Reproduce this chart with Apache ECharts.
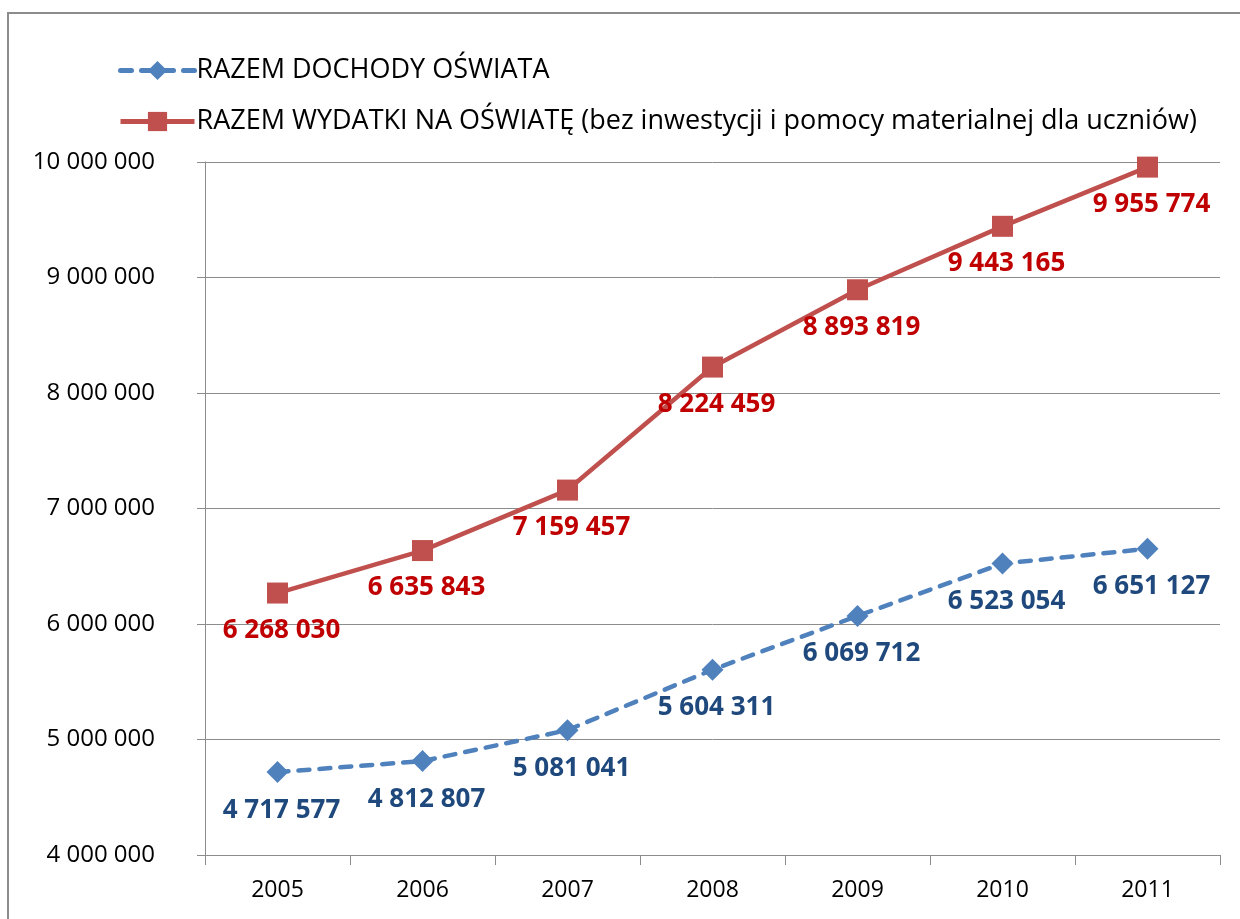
<!DOCTYPE html>
<html>
<head>
<meta charset="utf-8">
<script src="https://cdn.jsdelivr.net/npm/echarts@6/dist/echarts.min.js"></script>
<style>
  html, body { margin: 0; padding: 0; background: #fff; }
  #chart { width: 1240px; height: 919px; }
</style>
</head>
<body>
<div id="chart"></div>
<script>
// lata
const years = ['2005', '2006', '2007', '2008', '2009', '2010', '2011']
// dochody
const dochody = [4717577, 4812807, 5081041, 5604311, 6069712, 6523054, 6651127]
// wydatki
const wydatki = [6268030, 6635843, 7159457, 8224459, 8893819, 9443165, 9955774]
const nameDochody = 'RAZEM DOCHODY OŚWIATA'
const nameWydatki = 'RAZEM WYDATKI NA OŚWIATĘ (bez inwestycji i pomocy materialnej dla uczniów)'

const fmt = v => String(v).replace(/\B(?=(\d{3})+(?!\d))/g, ' ')
const font = '"Open Sans", "DejaVu Sans", sans-serif'

const chart = echarts.init(document.getElementById('chart'))
chart.setOption({
  animation: false,
  textStyle: { fontFamily: font },
  graphic: [{
    type: 'rect',
    shape: { x: 8, y: 13, width: 1300, height: 1000 },
    style: { fill: 'none', stroke: '#8c8c8c', lineWidth: 2 },
    silent: true
  }],
  legend: {
    orient: 'vertical',
    left: 113,
    top: 52,
    itemWidth: 74,
    itemHeight: 24,
    itemGap: 24,
    lineStyle: { width: 5 },
    textStyle: { fontSize: 27, color: '#000', fontFamily: font, padding: [0, 0, 0, -3] },
    data: [nameDochody, nameWydatki]
  },
  grid: { left: 205, right: 20, top: 162, bottom: 64 },
  xAxis: {
    type: 'category',
    data: years,
    boundaryGap: true,
    axisLine: { lineStyle: { color: '#8c8c8c', width: 1 } },
    axisTick: { show: true, length: 10, interval: 0, lineStyle: { color: '#8c8c8c' } },
    axisLabel: { fontSize: 23, color: '#000', margin: 24 }
  },
  yAxis: {
    type: 'value',
    min: 4000000,
    max: 10000000,
    interval: 1000000,
    axisLine: { show: true, lineStyle: { color: '#8c8c8c', width: 1 } },
    axisTick: { show: true, length: 8, lineStyle: { color: '#8c8c8c' } },
    splitLine: { lineStyle: { color: '#8c8c8c', width: 1 } },
    axisLabel: { fontSize: 24, color: '#000', margin: 50, formatter: fmt }
  },
  series: [
    {
      name: nameDochody,
      type: 'line',
      data: dochody,
      symbol: 'diamond',
      symbolSize: 22,
      itemStyle: { color: '#4F81BD' },
      lineStyle: { color: '#4F81BD', width: 4.5, type: [11, 10], cap: 'round' },
      label: {
        show: true,
        position: 'bottom',
        distance: 14,
        offset: [4, 0],
        color: '#1F497D',
        fontSize: 26,
        fontWeight: 'bold',
        fontFamily: font,
        formatter: p => fmt(p.value)
      }
    },
    {
      name: nameWydatki,
      type: 'line',
      data: wydatki,
      symbol: 'rect',
      symbolSize: 21,
      itemStyle: { color: '#C0504D' },
      lineStyle: { color: '#C0504D', width: 4.5 },
      label: {
        show: true,
        position: 'bottom',
        distance: 14,
        offset: [4, 0],
        color: '#C00000',
        fontSize: 26,
        fontWeight: 'bold',
        fontFamily: font,
        formatter: p => fmt(p.value)
      }
    }
  ]
})
</script>
</body>
</html>
